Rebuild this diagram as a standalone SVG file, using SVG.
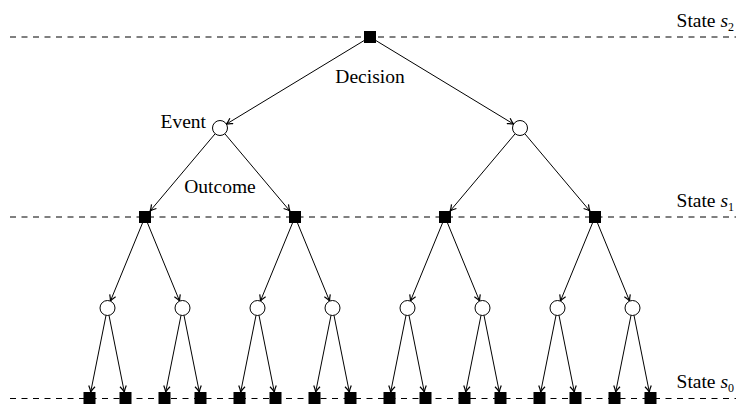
<svg xmlns="http://www.w3.org/2000/svg" width="742" height="404" viewBox="0 0 742 404">
<style>
.t{font-family:"Liberation Serif","Times New Roman",serif;font-size:19.5px;fill:#000}
.dash{stroke:#000;stroke-width:1;stroke-dasharray:6 5.5;fill:none}
.e{stroke:#000;stroke-width:1;fill:none;marker-end:url(#arr)}
.sq{fill:#000}
.ci{fill:#fff;stroke:#000;stroke-width:1}
</style>
<defs>
<marker id="arr" viewBox="-7 -4 8 8" refX="0" refY="0" markerWidth="8" markerHeight="8" orient="auto" markerUnits="userSpaceOnUse">
<path d="M-6,-3.2 Q-2.2,-0.7 0,0 Q-2.2,0.7 -6,3.2" fill="none" stroke="#000" stroke-width="1.2"/>
</marker>
</defs>
<rect width="742" height="404" fill="#fff"/>
<g id="levels">
<line class="dash" x1="10" y1="37" x2="736" y2="37"/>
<line class="dash" x1="10" y1="217" x2="736" y2="217"/>
<line class="dash" x1="10" y1="398.5" x2="736" y2="398.5"/>
<text class="t" x="734" y="27" text-anchor="end">State <tspan font-style="italic">s</tspan><tspan font-size="12" dy="4">2</tspan></text>
<text class="t" x="734" y="207" text-anchor="end">State <tspan font-style="italic">s</tspan><tspan font-size="12" dy="4">1</tspan></text>
<text class="t" x="734" y="388" text-anchor="end">State <tspan font-style="italic">s</tspan><tspan font-size="12" dy="4">0</tspan></text>
</g>
<g id="connectors">
<line class="e" x1="364" y1="40.6" x2="226.4" y2="124.1"/>
<line class="e" x1="376" y1="40.6" x2="513.6" y2="124.1"/>
<line class="e" x1="215.2" y1="133.7" x2="150.1" y2="211"/>
<line class="e" x1="224.8" y1="133.7" x2="289.9" y2="211"/>
<line class="e" x1="515.2" y1="133.7" x2="450.1" y2="211"/>
<line class="e" x1="524.8" y1="133.7" x2="589.9" y2="211"/>
<line class="e" x1="142.5" y1="223" x2="110.4" y2="301.1"/>
<line class="e" x1="147.5" y1="223" x2="179.6" y2="301.1"/>
<line class="e" x1="292.5" y1="223" x2="260.4" y2="301.1"/>
<line class="e" x1="297.5" y1="223" x2="329.6" y2="301.1"/>
<line class="e" x1="442.5" y1="223" x2="410.4" y2="301.1"/>
<line class="e" x1="447.5" y1="223" x2="479.6" y2="301.1"/>
<line class="e" x1="592.5" y1="223" x2="560.4" y2="301.1"/>
<line class="e" x1="597.5" y1="223" x2="629.6" y2="301.1"/>
<line class="e" x1="106" y1="315.4" x2="90.7" y2="392"/>
<line class="e" x1="109" y1="315.4" x2="124.3" y2="392"/>
<line class="e" x1="181" y1="315.4" x2="165.7" y2="392"/>
<line class="e" x1="184" y1="315.4" x2="199.3" y2="392"/>
<line class="e" x1="256" y1="315.4" x2="240.7" y2="392"/>
<line class="e" x1="259" y1="315.4" x2="274.3" y2="392"/>
<line class="e" x1="331" y1="315.4" x2="315.7" y2="392"/>
<line class="e" x1="334" y1="315.4" x2="349.3" y2="392"/>
<line class="e" x1="406" y1="315.4" x2="390.7" y2="392"/>
<line class="e" x1="409" y1="315.4" x2="424.3" y2="392"/>
<line class="e" x1="481" y1="315.4" x2="465.7" y2="392"/>
<line class="e" x1="484" y1="315.4" x2="499.3" y2="392"/>
<line class="e" x1="556" y1="315.4" x2="540.7" y2="392"/>
<line class="e" x1="559" y1="315.4" x2="574.3" y2="392"/>
<line class="e" x1="631" y1="315.4" x2="615.7" y2="392"/>
<line class="e" x1="634" y1="315.4" x2="649.3" y2="392"/>
</g>
<g id="root"><rect class="sq" x="364" y="31" width="12" height="12"/></g>
<g id="labels">
<text class="t" x="370" y="83" text-anchor="middle">Decision</text>
<text class="t" x="206" y="128" text-anchor="end">Event</text>
<text class="t" x="220" y="193" text-anchor="middle">Outcome</text>
</g>
<g id="ev1"><circle class="ci" cx="220" cy="128" r="7.5"/></g>
<g id="ev2"><circle class="ci" cx="520" cy="128" r="7.5"/></g>
<g id="d1"><rect class="sq" x="139" y="211" width="12" height="12"/></g>
<g id="d2"><rect class="sq" x="289" y="211" width="12" height="12"/></g>
<g id="d3"><rect class="sq" x="439" y="211" width="12" height="12"/></g>
<g id="d4"><rect class="sq" x="589" y="211" width="12" height="12"/></g>
<g id="e1"><circle class="ci" cx="107.5" cy="308" r="7.5"/></g>
<g id="e2"><circle class="ci" cx="182.5" cy="308" r="7.5"/></g>
<g id="e3"><circle class="ci" cx="257.5" cy="308" r="7.5"/></g>
<g id="e4"><circle class="ci" cx="332.5" cy="308" r="7.5"/></g>
<g id="e5"><circle class="ci" cx="407.5" cy="308" r="7.5"/></g>
<g id="e6"><circle class="ci" cx="482.5" cy="308" r="7.5"/></g>
<g id="e7"><circle class="ci" cx="557.5" cy="308" r="7.5"/></g>
<g id="e8"><circle class="ci" cx="632.5" cy="308" r="7.5"/></g>
<g id="leaves">
<g id="l1"><rect class="sq" x="83.5" y="392" width="12" height="12"/></g>
<g id="l2"><rect class="sq" x="119.5" y="392" width="12" height="12"/></g>
<g id="l3"><rect class="sq" x="158.5" y="392" width="12" height="12"/></g>
<g id="l4"><rect class="sq" x="194.5" y="392" width="12" height="12"/></g>
<g id="l5"><rect class="sq" x="233.5" y="392" width="12" height="12"/></g>
<g id="l6"><rect class="sq" x="269.5" y="392" width="12" height="12"/></g>
<g id="l7"><rect class="sq" x="308.5" y="392" width="12" height="12"/></g>
<g id="l8"><rect class="sq" x="344.5" y="392" width="12" height="12"/></g>
<g id="l9"><rect class="sq" x="383.5" y="392" width="12" height="12"/></g>
<g id="l10"><rect class="sq" x="419.5" y="392" width="12" height="12"/></g>
<g id="l11"><rect class="sq" x="458.5" y="392" width="12" height="12"/></g>
<g id="l12"><rect class="sq" x="494.5" y="392" width="12" height="12"/></g>
<g id="l13"><rect class="sq" x="533.5" y="392" width="12" height="12"/></g>
<g id="l14"><rect class="sq" x="569.5" y="392" width="12" height="12"/></g>
<g id="l15"><rect class="sq" x="608.5" y="392" width="12" height="12"/></g>
<g id="l16"><rect class="sq" x="644.5" y="392" width="12" height="12"/></g>
</g>
</svg>
